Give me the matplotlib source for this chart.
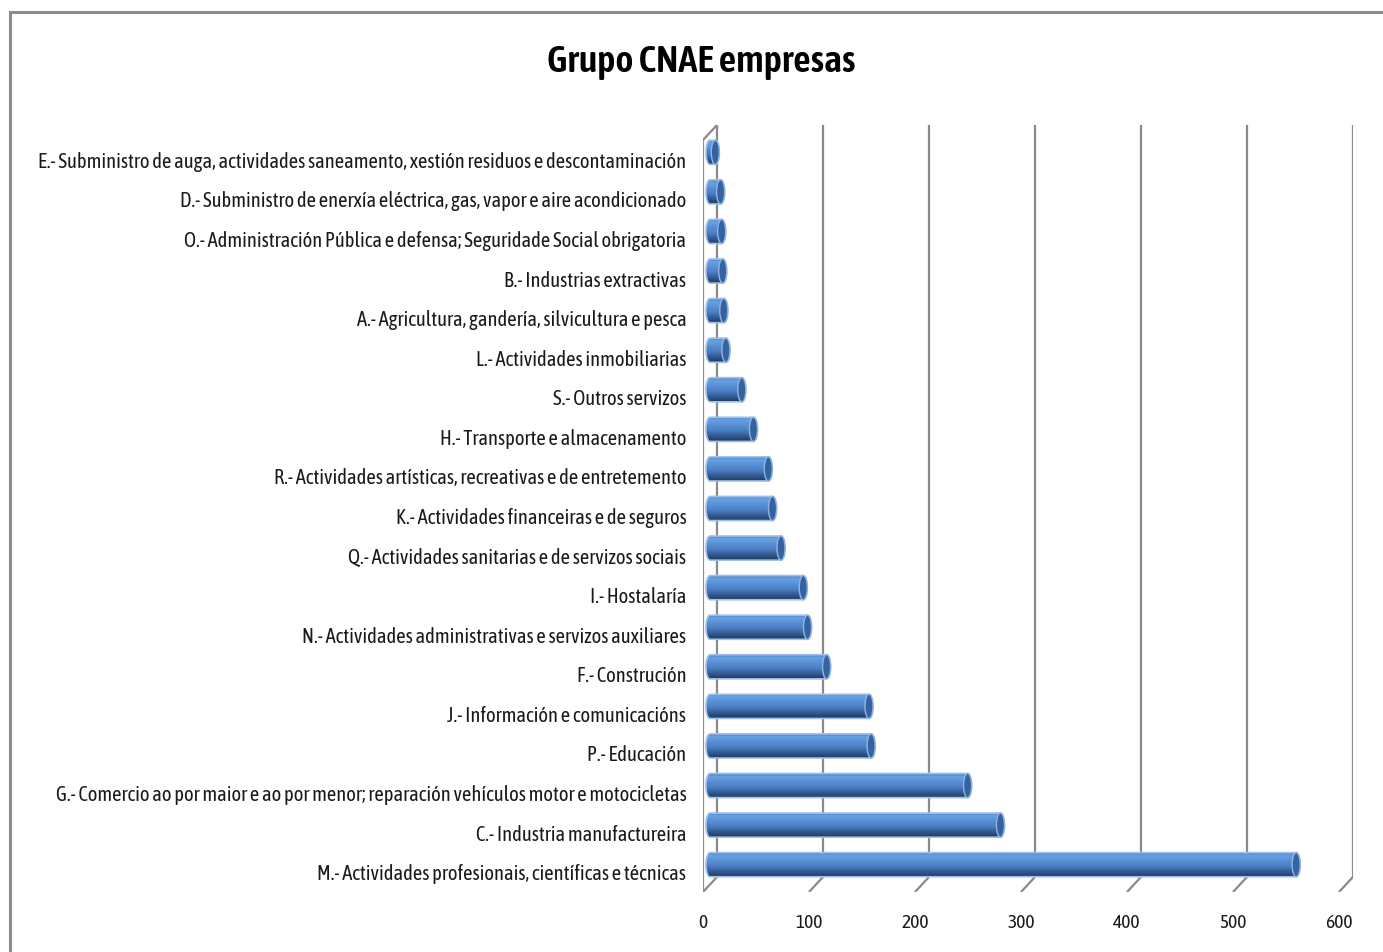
import numpy as np
import matplotlib
matplotlib.use("Agg")
import matplotlib.pyplot as plt
from matplotlib.patches import Polygon, Ellipse, Rectangle
from matplotlib.colors import LinearSegmentedColormap

plt.rcParams['font.family'] = ['Asap Condensed', 'Carlito', 'DejaVu Sans']

# data (bottom to top, as drawn)
categories = [
    "M.- Actividades profesionais, científicas e técnicas",
    "C.- Industria manufactureira",
    "G.- Comercio ao por maior e ao por menor; reparación vehículos motor e motocicletas",
    "P.- Educación",
    "J.- Información e comunicacións",
    "F.- Construción",
    "N.- Actividades administrativas e servizos auxiliares",
    "I.- Hostalaría",
    "Q.- Actividades sanitarias e de servizos sociais",
    "K.- Actividades financeiras e de seguros",
    "R.- Actividades artísticas, recreativas e de entretemento",
    "H.- Transporte e almacenamento",
    "S.- Outros servizos",
    "L.- Actividades inmobiliarias",
    "A.- Agricultura, gandería, silvicultura e pesca",
    "B.- Industrias extractivas",
    "O.- Administración Pública e defensa; Seguridade Social obrigatoria",
    "D.- Subministro de enerxía eléctrica, gas, vapor e aire acondicionado",
    "E.- Subministro de auga, actividades saneamento, xestión residuos e descontaminación",
]
values = [553, 274, 243, 152, 150, 110, 92, 88, 67, 59, 55, 41, 30, 15, 13, 12, 11, 10, 5]
xticks = [0, 100, 200, 300, 400, 500, 600]
title = "Grupo CNAE empresas"

# 3d look
depth_x = 13.2      # data units
depth_y = 0.38      # category units
bar_h = 0.61
cap_a = 3.8
grid_col = '#8a8a8a'

W, H = 1383, 952
fig = plt.figure(figsize=(W / 100, H / 100), dpi=100)
fig.patch.set_facecolor('white')

# outer chart border (runs off right and bottom)
fig.add_artist(Rectangle((10 / W, -0.1), 1.2, 1.1 - 12 / H, transform=fig.transFigure,
                         fill=False, ec='#8c8c8c', lw=2.2))

ax = fig.add_axes([703 / W, 60 / H, 650 / W, 767 / H])
n = len(categories)
ypos = np.arange(n)
vals = np.array(values, dtype=float)

ax.set_xlim(0, xticks[-1] + depth_x)
ax.set_ylim(-0.5, n - 0.5 + depth_y)
for s in ax.spines.values():
    s.set_visible(False)

# walls / gridlines
bot, top = -0.5, n - 0.5
ax.vlines(np.array(xticks) + depth_x, bot + depth_y, top + depth_y, color=grid_col, lw=1.6, zorder=1)
for v in xticks:
    ax.plot([v, v + depth_x], [bot, bot + depth_y], color=grid_col, lw=1.6, zorder=1,
            solid_capstyle='butt')
ax.plot([0, 0], [bot, top], color=grid_col, lw=1.6, zorder=1)
ax.plot([0, depth_x], [top, top + depth_y], color=grid_col, lw=1.6, zorder=1)

# cylinders
cmap = LinearSegmentedColormap.from_list('cyl', [
    (0.0, '#213b60'), (0.15, '#2d5186'), (0.45, '#4a7ec2'),
    (0.72, '#5a92d8'), (0.9, '#68a0e2'), (1.0, '#5289cc')])
nstrip = 24
yc = ypos + depth_y / 2
x0 = depth_x / 2
t_r = np.linspace(-np.pi / 2, np.pi / 2, 40)
t_l = np.linspace(np.pi / 2, 3 * np.pi / 2, 40)
clips = []
for i in range(n):
    xr = x0 + vals[i]
    pts = np.vstack([
        np.column_stack([xr + cap_a * np.cos(t_r), yc[i] + bar_h / 2 * np.sin(t_r)]),
        np.column_stack([x0 + cap_a * np.cos(t_l), yc[i] + bar_h / 2 * np.sin(t_l)]),
    ])
    p = Polygon(pts, closed=True, fc='none', ec='#9fc0ea', lw=1.2, zorder=4)
    ax.add_patch(p)
    clips.append(p)

for k in range(nstrip):
    off = -bar_h / 2 + (k + 0.5) * bar_h / nstrip
    bars = ax.barh(yc + off, vals + 2 * cap_a, left=x0 - cap_a, height=bar_h / nstrip * 1.1,
                   color=cmap(k / (nstrip - 1)), lw=0, zorder=3)
    for r, c in zip(bars.patches, clips):
        r.set_clip_path(c)

for i in range(n):
    ax.add_patch(Ellipse((x0 + vals[i], yc[i]), 2 * cap_a, bar_h, fc='#3563a0',
                         ec='#8fb4e4', lw=1.0, zorder=5))

ax.set_yticks(ypos)
ax.set_yticklabels(categories, fontsize=14.8, color='#1a1a1a')
ax.set_xticks(xticks)
ax.set_xticklabels([str(v) for v in xticks], fontsize=14, color='#1a1a1a')
ax.tick_params(axis='both', length=0)
ax.tick_params(axis='y', pad=12)
ax.tick_params(axis='x', pad=16)

fig.text(701 / W, 1 - 62 / H, title, ha='center', va='center', fontsize=27.5,
         fontweight='semibold', color='black')

fig.savefig('out.png', dpi=100)
